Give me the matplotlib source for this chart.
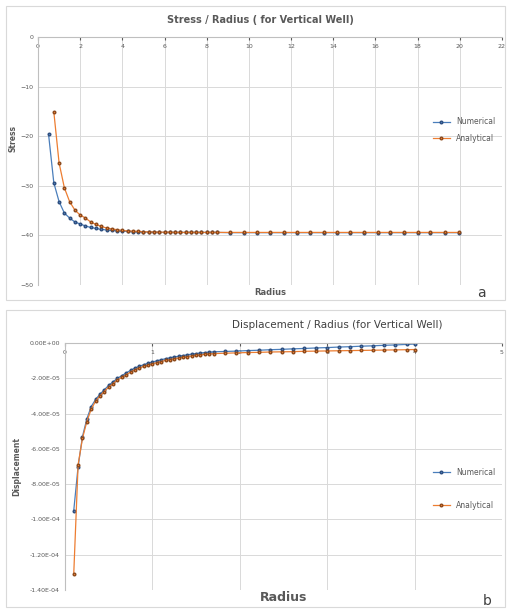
import matplotlib.pyplot as plt
from matplotlib.patches import Rectangle
from matplotlib.ticker import FuncFormatter

# radius values (stress chart)
radius_a = [0.5, 0.75, 1.0, 1.25, 1.5, 1.75, 2.0, 2.25, 2.5, 2.75, 3.0, 3.25, 3.5, 3.75,
            4.0, 4.25, 4.5, 4.75, 5.0, 5.25, 5.5, 5.75, 6.0, 6.25, 6.5, 6.75, 7.0, 7.25,
            7.5, 7.75, 8.0, 8.25, 8.5, 9.1, 9.75, 10.4, 11.0, 11.65, 12.3, 12.9, 13.55,
            14.2, 14.8, 15.45, 16.1, 16.7, 17.35, 18.0, 18.6, 19.3, 19.95]
stress_num = [-19.6, -29.4, -33.2, -35.5, -36.5, -37.3, -37.7, -38.1, -38.4, -38.6, -38.8,
              -38.9, -39.0, -39.1, -39.15, -39.2, -39.25, -39.3, -39.3, -39.35, -39.35,
              -39.4, -39.4, -39.4, -39.4, -39.4, -39.4, -39.4, -39.4, -39.4, -39.4, -39.4,
              -39.4, -39.45, -39.45, -39.45, -39.45, -39.45, -39.45, -39.45, -39.45, -39.45,
              -39.45, -39.45, -39.45, -39.45, -39.45, -39.45, -39.45, -39.45, -39.45]
stress_ana = [-15.1, -25.4, -30.4, -33.2, -34.9, -35.9, -36.5, -37.3, -37.8, -38.2, -38.5,
              -38.7, -38.85, -39.0, -39.1, -39.15, -39.2, -39.25, -39.3, -39.3, -39.35,
              -39.35, -39.35, -39.4, -39.4, -39.4, -39.4, -39.4, -39.4, -39.4, -39.4, -39.4,
              -39.4, -39.4, -39.4, -39.4, -39.4, -39.4, -39.4, -39.4, -39.4, -39.4, -39.4,
              -39.4, -39.4, -39.4, -39.4, -39.4, -39.4, -39.4]

# radius values (displacement chart)
radius_b = [0.1, 0.15, 0.2, 0.25, 0.3, 0.35, 0.4, 0.45, 0.5, 0.55, 0.6, 0.65, 0.7, 0.75,
            0.8, 0.85, 0.9, 0.95, 1.0, 1.05, 1.1, 1.15, 1.2, 1.25, 1.3, 1.35, 1.4, 1.45,
            1.5, 1.55, 1.6, 1.65, 1.7, 1.83, 1.96, 2.09, 2.22, 2.35, 2.48, 2.61, 2.74,
            2.87, 3.0, 3.13, 3.26, 3.39, 3.52, 3.65, 3.78, 3.91, 4.0]
# displacement in units of 1e-5
disp_num = [-9.5, -7.0, -5.3, -4.3, -3.6, -3.2, -2.9, -2.65, -2.4, -2.2, -2.0, -1.85, -1.7,
            -1.55, -1.42, -1.32, -1.23, -1.15, -1.08, -1.01, -0.95, -0.89, -0.84, -0.79,
            -0.75, -0.71, -0.67, -0.63, -0.60, -0.57, -0.54, -0.52, -0.50, -0.48, -0.46,
            -0.43, -0.41, -0.38, -0.36, -0.33, -0.31, -0.28, -0.26, -0.23, -0.21, -0.18,
            -0.16, -0.13, -0.11, -0.08, -0.06]
disp_ana = [-13.1, -6.9, -5.4, -4.45, -3.75, -3.3, -3.0, -2.75, -2.5, -2.3, -2.1, -1.95, -1.8,
            -1.65, -1.52, -1.42, -1.33, -1.25, -1.18, -1.11, -1.05, -0.99, -0.94, -0.89,
            -0.85, -0.81, -0.77, -0.73, -0.70, -0.67, -0.64, -0.62, -0.60, -0.58, -0.56,
            -0.54, -0.53, -0.51, -0.50, -0.49, -0.47, -0.46, -0.45, -0.44, -0.43, -0.42,
            -0.41, -0.40, -0.39, -0.38, -0.37]

x_ticks_a = [0, 2, 4, 6, 8, 10, 12, 14, 16, 18, 20, 22]
y_ticks_a = [0, -10, -20, -30, -40, -50]
x_ticks_b = [0, 1, 2, 3, 4, 5]
y_ticks_b = [0, -2e-5, -4e-5, -6e-5, -8e-5, -1e-4, -1.2e-4, -1.4e-4]

blue = '#4a7ebb'
orange = '#ed7d31'
grid = '#d9d9d9'
txt = '#595959'

fig = plt.figure(figsize=(5.07, 6.10), dpi=100)
W, H = 507, 610

# chart area borders
fig.patches.append(Rectangle((6 / W, 1 - 300 / H), 499 / W, 294 / H, transform=fig.transFigure,
                             fill=False, edgecolor=grid, linewidth=0.8))
fig.patches.append(Rectangle((6 / W, 1 - 607 / H), 499 / W, 297 / H, transform=fig.transFigure,
                             fill=False, edgecolor=grid, linewidth=0.8))


def style_axes(ax):
    for s in ['right', 'bottom']:
        ax.spines[s].set_visible(False)
    for s in ['top', 'left']:
        ax.spines[s].set_color('#bfbfbf')
        ax.spines[s].set_linewidth(0.8)
    ax.grid(True, color=grid, linewidth=0.7)
    ax.set_axisbelow(True)
    ax.tick_params(axis='x', top=True, labeltop=True, bottom=False, labelbottom=False,
                   direction='in', length=2, pad=-9, labelsize=4.5, colors=txt)
    ax.tick_params(axis='y', length=0, labelsize=4.5, colors=txt)


# ---- a: stress ----
ax1 = fig.add_axes([38 / W, 1 - 285 / H, 464 / W, 248 / H])
ax1.plot(radius_a, stress_num, color=blue, marker='o', markersize=1.9,
         markeredgecolor='#2f4f7f', linewidth=0.9, label='Numerical')
ax1.plot(radius_a[1:], stress_ana, color=orange, marker='o', markersize=1.9,
         markeredgecolor='#8c4a1d', linewidth=0.9, label='Analytical')
ax1.set_xlim(0, 22)
ax1.set_ylim(-50, 0)
ax1.set_xticks(x_ticks_a)
ax1.set_yticks(y_ticks_a)
style_axes(ax1)
ax1.set_ylabel('Stress', fontsize=5.5, color=txt, fontweight='bold')
ax1.yaxis.set_label_coords(-0.045, 0.59)
ax1.set_xlabel('Radius', fontsize=6, color=txt, fontweight='bold', labelpad=2)
ax1.xaxis.set_label_position('bottom')
leg1 = ax1.legend(loc='center right', bbox_to_anchor=(1.0, 0.625), frameon=False,
                  fontsize=5.5, handlelength=2.2, labelspacing=1.0)
for t in leg1.get_texts():
    t.set_color(txt)
fig.text(260 / W, 1 - 20 / H, 'Stress / Radius ( for Vertical Well)', ha='center', va='center',
         fontsize=7, color=txt, fontweight='bold')
fig.text(481 / W, 1 - 293 / H, 'a', ha='center', va='center', fontsize=10, color='#404040')

# ---- b: displacement ----
ax2 = fig.add_axes([65 / W, 1 - 590 / H, 437 / W, 247 / H])
ax2.plot(radius_b, [v * 1e-5 for v in disp_num], color=blue, marker='o', markersize=1.9,
         markeredgecolor='#2f4f7f', linewidth=0.9, label='Numerical')
ax2.plot(radius_b, [v * 1e-5 for v in disp_ana], color=orange, marker='o', markersize=1.9,
         markeredgecolor='#8c4a1d', linewidth=0.9, label='Analytical')
ax2.set_xlim(0, 5)
ax2.set_ylim(-1.4e-4, 0)
ax2.set_xticks(x_ticks_b)
ax2.set_yticks(y_ticks_b)
ax2.yaxis.set_major_formatter(FuncFormatter(lambda v, p: '0.00E+00' if abs(v) < 1e-12 else f'{v:.2E}'))
style_axes(ax2)
ax2.set_ylabel('Displacement', fontsize=5.5, color=txt, fontweight='bold')
ax2.yaxis.set_label_coords(-0.1, 0.5)
ax2.set_xlabel('Radius', fontsize=9, color=txt, fontweight='bold', labelpad=1)
ax2.xaxis.set_label_position('bottom')
leg2 = ax2.legend(loc='center right', bbox_to_anchor=(1.0, 0.41), frameon=False,
                  fontsize=5.5, handlelength=2.2, labelspacing=3.2)
for t in leg2.get_texts():
    t.set_color(txt)
fig.text(337 / W, 1 - 325 / H, 'Displacement / Radius (for Vertical Well)', ha='center', va='center',
         fontsize=7.5, color='#404040')
fig.text(487 / W, 1 - 601 / H, 'b', ha='center', va='center', fontsize=10, color='#404040')

fig.savefig('out.png', dpi=100)
